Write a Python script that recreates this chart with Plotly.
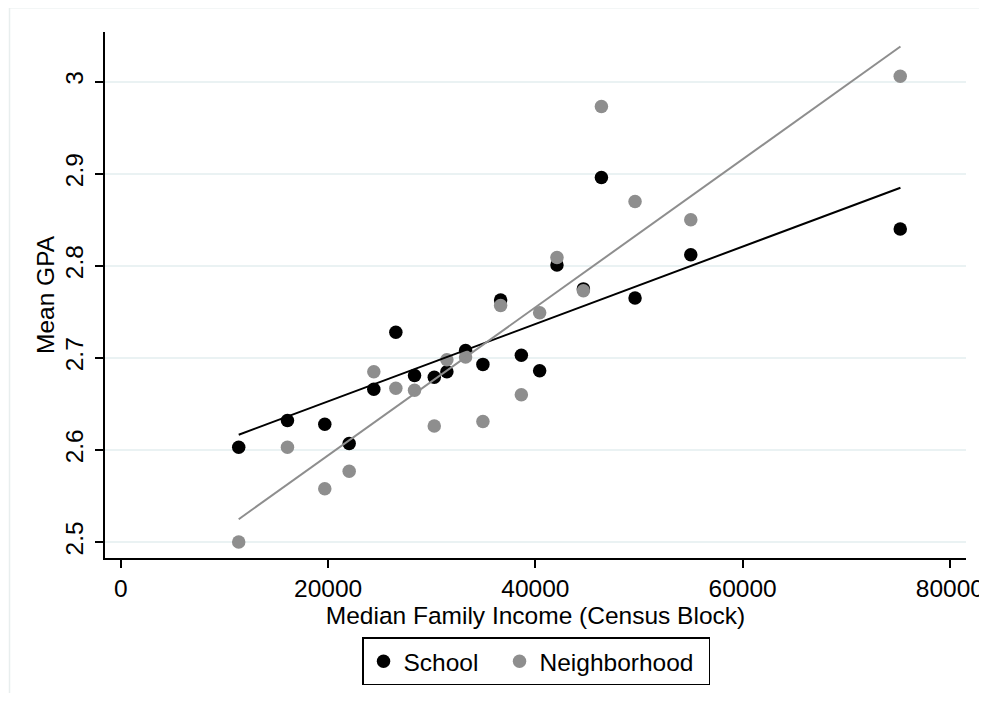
import plotly.graph_objects as go

# Median family income (census block) for each observation
income = [11376, 16079, 19681, 22037, 24413, 26538, 28344, 30246, 31463, 33269,
          34940, 36649, 38648, 40415, 42086, 44636, 46374, 49619, 54998, 75210]
# Mean GPA, school measure
school_gpa = [2.603, 2.632, 2.628, 2.607, 2.666, 2.728, 2.681, 2.679, 2.685, 2.708,
              2.693, 2.763, 2.703, 2.686, 2.801, 2.775, 2.896, 2.765, 2.812, 2.840]
# Mean GPA, neighborhood measure
neigh_gpa = [2.500, 2.603, 2.558, 2.577, 2.685, 2.667, 2.665, 2.626, 2.698, 2.701,
             2.631, 2.757, 2.660, 2.749, 2.809, 2.773, 2.973, 2.870, 2.850, 3.006]
# Fitted line end points
fit_x = [11376, 75230]
school_fit = [2.6166, 2.8849]
neigh_fit = [2.5248, 3.0382]

x_ticks = [0, 20000, 40000, 60000, 80000]
y_ticks = [2.5, 2.6, 2.7, 2.8, 2.9, 3.0]
y_tick_text = ["2.5", "2.6", "2.7", "2.8", "2.9", "3"]

BLACK = "#000000"
GRAY = "#8e8e8e"
FONT = "Liberation Sans, Arial, sans-serif"
FS = 24.5

fig = go.Figure()
fig.add_trace(go.Scatter(x=income, y=school_gpa, mode="markers", name="School",
                         legendwidth=91,
                         marker=dict(color=BLACK, size=13.5, line=dict(width=0))))
fig.add_trace(go.Scatter(x=income, y=neigh_gpa, mode="markers", name="Neighborhood",
                         legendwidth=164,
                         marker=dict(color=GRAY, size=13.5, line=dict(width=0))))
fig.add_trace(go.Scatter(x=fit_x, y=school_fit, mode="lines", showlegend=False,
                         line=dict(color=BLACK, width=2)))
fig.add_trace(go.Scatter(x=fit_x, y=neigh_fit, mode="lines", showlegend=False,
                         line=dict(color=GRAY, width=2)))

# light outer frame (graph region border): left and top edges only
frame = dict(color="#e8eeee", width=1.5)
fig.add_shape(type="line", xref="paper", yref="paper",
              x0=-0.1109, x1=-0.1109, y0=-0.2566, y1=1.0462, line=frame, layer="below")
fig.add_shape(type="line", xref="paper", yref="paper",
              x0=-0.1109, x1=1.0244, y0=1.0462, y1=1.0462, line=frame, layer="below")

fig.update_layout(
    width=979, height=690,
    margin=dict(l=97, r=21, t=24, b=136),
    paper_bgcolor="white", plot_bgcolor="white",
    font=dict(family=FONT, size=FS, color="black"),
    showlegend=True,
    legend=dict(orientation="h", x=0.5006, xanchor="center", y=-0.151, yanchor="top",
                bordercolor="black", borderwidth=1.5, bgcolor="white",
                font=dict(size=FS)),
    xaxis=dict(range=[-1526, 81555], tickmode="array", tickvals=x_ticks,
               ticktext=[str(v) for v in x_ticks], automargin=False,
               tickfont=dict(size=FS), ticklabeloverflow="allow",
               showgrid=False, zeroline=False, showline=True, linecolor="black",
               linewidth=1.5, ticks="outside", ticklen=8, tickcolor="black",
               tickwidth=1.5,
               title=dict(text="Median Family Income (Census Block)", standoff=0,
                          font=dict(size=FS))),
    yaxis=dict(range=[2.4827, 3.054], tickmode="array", tickvals=y_ticks,
               ticktext=y_tick_text, tickangle=-90, automargin=False,
               tickfont=dict(size=FS), ticklabelstandoff=2,
               showgrid=True, gridcolor="#eaf2f3", gridwidth=1.5,
               zeroline=False, showline=True, linecolor="black", linewidth=1.5,
               ticks="outside", ticklen=8, tickcolor="black", tickwidth=1.5,
               title=dict(text="Mean GPA", standoff=0, font=dict(size=FS))),
)

fig.write_html("out.html")
